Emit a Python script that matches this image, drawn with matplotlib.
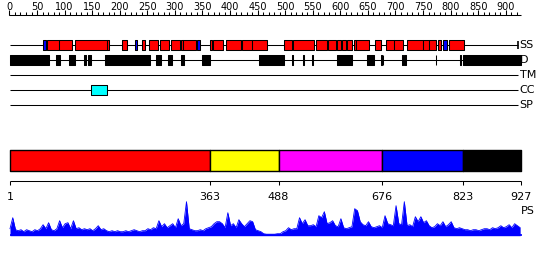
import numpy as np
import matplotlib
matplotlib.use('Agg')
import matplotlib.pyplot as plt

seq_len = 927
track_names = ['SS', 'D', 'TM', 'CC', 'SP']

# secondary structure: helices (red) and strands (blue), residue ranges
helix = [(68, 90), (90, 114), (119, 176), (176, 181), (204, 214), (240, 245),
         (253, 269), (273, 289), (293, 309), (311, 315), (315, 338), (363, 367),
         (369, 387), (393, 419), (422, 440), (440, 467), (497, 512), (514, 553),
         (556, 575), (578, 592), (594, 601), (603, 610), (612, 622), (624, 628),
         (628, 652), (663, 674), (683, 697), (697, 714), (720, 749), (749, 760),
         (761, 773), (777, 782), (797, 825)]
strand = [(61, 66), (227, 232), (340, 345), (787, 793)]
disorder = [(1, 71), (84, 92), (108, 118), (135, 139), (142, 147), (173, 254),
            (266, 275), (288, 295), (311, 316), (349, 364), (452, 497), (513, 515),
            (532, 534), (548, 551), (594, 622), (648, 661), (673, 675), (677, 678),
            (711, 713), (716, 719), (773, 774), (817, 818), (823, 927)]
coiled_coil = [(148, 177)]
transmembrane = []
signal_peptide = []

domain_bounds = [1, 363, 488, 676, 823, 927]
domain_colors = ['#ff0000', '#ffff00', '#ff00ff', '#0000ff', '#000000']

# PS profile, one value every 5 residues starting at residue 1
profile_val = [7, 18, 6, 5, 6, 4, 6, 5, 4, 6, 5, 7, 11, 7, 13, 6, 5, 7, 15, 8,
               12, 13, 7, 15, 7, 8, 6, 7, 6, 7, 5, 7, 10, 6, 7, 5, 4, 5, 4, 5,
               4, 4, 5, 4, 5, 6, 5, 4, 5, 5, 7, 6, 8, 7, 15, 9, 12, 8, 10, 12,
               8, 17, 10, 12, 34, 7, 6, 5, 5, 6, 5, 7, 8, 9, 12, 14, 14, 12, 8, 23,
               10, 12, 8, 16, 12, 9, 12, 15, 14, 6, 5, 4, 2, 1.5, 1.5, 1.5, 1.5, 2, 2, 4,
               5, 8, 6, 7, 7, 18, 12, 16, 10, 10, 11, 9, 20, 18, 24, 12, 13, 15, 10, 9,
               17, 8, 7, 8, 9, 27, 25, 14, 11, 10, 14, 9, 8, 9, 10, 8, 20, 12, 11, 10,
               30, 12, 11, 34, 10, 11, 9, 19, 14, 19, 13, 15, 10, 8, 9, 12, 10, 14, 9, 11,
               14, 8, 7, 8, 7, 6, 6, 5, 6, 6, 5, 6, 7, 7, 6, 8, 7, 8, 10, 8,
               9, 11, 8, 12, 10, 8]
profile_pos = np.arange(1, 1 + 5 * len(profile_val), 5)

px_per_res = 0.5515
x_left = 1 - 10 / px_per_res
x_right = 1 + 540 / px_per_res

fig = plt.figure(figsize=(5.5, 2.6), dpi=100)
ax = fig.add_axes([0, 0, 1, 1])
ax.set_xlim(x_left, x_right)
ax.set_ylim(260, 0)
ax.axis('off')

lw = 0.75

# top ruler
ax.hlines(14.5, 0, seq_len, color='black', lw=lw)
minor = np.arange(0, 921, 10)
ax.vlines(minor, 11.5, 14.5, color='black', lw=lw)
for t in range(0, 901, 50):
    ax.vlines(t, 10, 14.5, color='black', lw=lw)
    ax.text(t, 10, str(t), ha='center', va='baseline', fontsize=7)

# feature tracks
track_y = [45, 60, 75, 90, 105]
for name, y in zip(track_names, track_y):
    ax.hlines(y, 1, 923, color='black', lw=lw, zorder=1)
    ax.text(925, y, name, ha='left', va='center', fontsize=8)
ax.vlines(923, 41, 49, color='black', lw=1.2)

def boxes(ranges, y, color):
    ax.broken_barh([(s, e - s) for s, e in ranges], (y - 5, 10),
                   facecolors=color, edgecolors='black', linewidth=lw, zorder=2)

boxes(helix, track_y[0], '#ff0000')
boxes(strand, track_y[0], '#0000ff')
boxes(disorder, track_y[1], '#000000')
boxes(transmembrane, track_y[2], '#808080')
boxes(coiled_coil, track_y[3], '#00ffff')
boxes(signal_peptide, track_y[4], '#808080')

# domain bar
segs = [(domain_bounds[i], domain_bounds[i + 1] - domain_bounds[i])
        for i in range(len(domain_colors))]
ax.broken_barh(segs, (150.3, 20.4), facecolors=domain_colors,
               edgecolors='black', linewidth=1)

# bottom ruler
ax.hlines(180.5, 1, seq_len, color='black', lw=lw)
ax.vlines(domain_bounds, 180.5, 185, color='black', lw=lw)
for b in domain_bounds:
    ax.text(b, 200, str(b), ha='center', va='baseline', fontsize=8)
ax.text(seq_len + 1, 211, 'PS', ha='left', va='center', fontsize=8)

# PS profile
axp = fig.add_axes([0, 24.3 / 260, 1, 35 / 260])
axp.set_xlim(x_left, x_right)
axp.set_ylim(0, 35)
axp.axis('off')
axp.fill_between(profile_pos, 0, profile_val, color='#0000ff', lw=0)
axp.plot(profile_pos, profile_val, color='#0000ff', lw=0.6)
axp.hlines(0.6, 1, seq_len + 3, color='#0000ff', lw=1.2)

fig.savefig('out.png', dpi=100)
